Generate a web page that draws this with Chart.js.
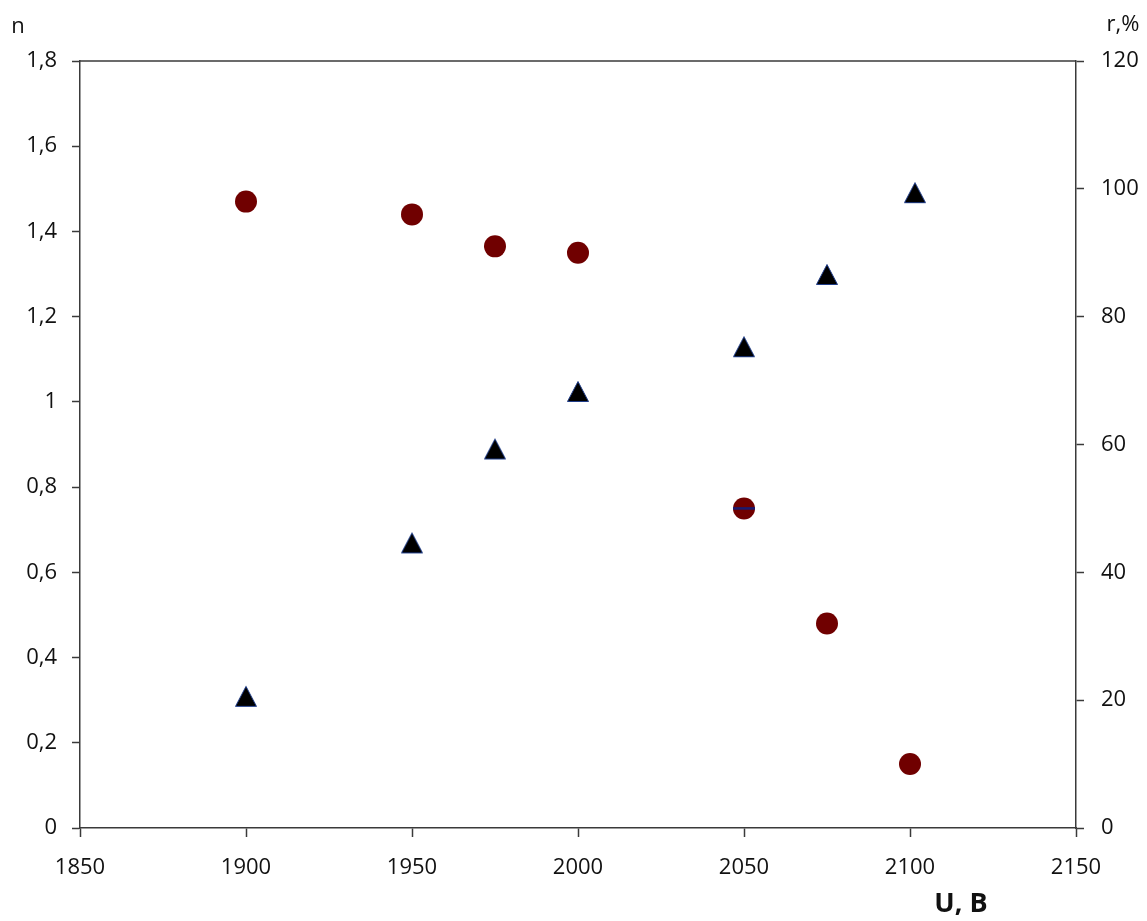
<!DOCTYPE html>
<html>
<head>
<meta charset="utf-8">
<script src="https://cdn.jsdelivr.net/npm/chart.js@4/dist/chart.umd.min.js"></script>
<style>
html,body{margin:0;padding:0;background:#fff;}
canvas{display:block;}
</style>
</head>
<body>
<canvas id="c" width="1147" height="921"></canvas>
<script>
// ---- data ----
const nVoltages = [1900, 1950, 1975, 2000, 2050, 2075, 2100];
const nValues = [1.47, 1.44, 1.365, 1.35, 0.75, 0.48, 0.15];
const rVoltages = [1900, 1950, 1975, 2000, 2050, 2075, 2101.5];
const rValues = [20.6, 44.6, 59.3, 68.3, 75.3, 86.6, 99.4];
const dashVoltage = [2050];
const dashValue = [0.75];
const xTickLabels = ['1850', '1900', '1950', '2000', '2050', '2100', '2150'];
const leftTickLabels = ['0', '0,2', '0,4', '0,6', '0,8', '1', '1,2', '1,4', '1,6', '1,8'];
const rightTickLabels = ['0', '20', '40', '60', '80', '100', '120'];
const leftAxisTitle = 'n';
const rightAxisTitle = 'r,%';
const xAxisTitle = 'U, B';

// ---- styles ----
const FONT = "'Open Sans', 'Liberation Sans', sans-serif";
const AXIS_COLOR = '#3a3a3a';
const TEXT_COLOR = '#111111';
const TICK_SIZE = 22;

function triangleMarker() {
  const cv = document.createElement('canvas');
  cv.width = 24; cv.height = 23;
  const g = cv.getContext('2d');
  g.beginPath();
  g.moveTo(12, 1.5);
  g.lineTo(22.5, 21.5);
  g.lineTo(1.5, 21.5);
  g.closePath();
  g.fillStyle = '#000000';
  g.fill();
  g.strokeStyle = '#1f3c88';
  g.lineWidth = 1;
  g.stroke();
  return cv;
}

const labelsPlugin = {
  id: 'extraText',
  afterDraw(chart) {
    const ctx = chart.ctx;
    const a = chart.chartArea;
    ctx.save();
    ctx.strokeStyle = AXIS_COLOR;
    ctx.lineWidth = 1.5;
    ctx.beginPath();
    ctx.moveTo(a.left, a.top);
    ctx.lineTo(a.right, a.top);
    ctx.stroke();
    ctx.fillStyle = TEXT_COLOR;
    ctx.textAlign = 'center';
    ctx.textBaseline = 'middle';
    ctx.font = TICK_SIZE + 'px ' + FONT;
    ctx.fillText(leftAxisTitle, 18, 27);
    ctx.fillText(rightAxisTitle, 1123, 25);
    ctx.font = 'bold 27px ' + FONT;
    ctx.fillText(xAxisTitle, 961, 904);
    ctx.restore();
  }
};

const ctx = document.getElementById('c').getContext('2d');
new Chart(ctx, {
  type: 'scatter',
  data: {
    datasets: [
      {
        label: 'n',
        data: nVoltages.map((x, i) => ({x: x, y: nValues[i]})),
        yAxisID: 'y',
        order: 1,
        pointStyle: 'circle',
        pointRadius: 11,
        pointBackgroundColor: '#700000',
        pointBorderColor: '#700000',
        pointBorderWidth: 0,
        showLine: false
      },
      {
        label: 'dash',
        data: dashVoltage.map((x, i) => ({x: x, y: dashValue[i]})),
        yAxisID: 'y',
        order: -1,
        pointStyle: 'line',
        pointRadius: 11,
        pointBorderColor: '#1a1a70',
        pointBorderWidth: 2.5,
        showLine: false
      },
      {
        label: 'r',
        data: rVoltages.map((x, i) => ({x: x, y: rValues[i]})),
        yAxisID: 'y1',
        order: 0,
        pointStyle: triangleMarker(),
        pointRadius: 11,
        showLine: false
      }
    ]
  },
  options: {
    responsive: false,
    animation: false,
    events: [],
    layout: {padding: {top: 61, left: 0, right: 0, bottom: 0}},
    plugins: {legend: {display: false}, tooltip: {enabled: false}},
    scales: {
      x: {
        type: 'linear',
        position: 'bottom',
        min: 1850, max: 2150,
        ticks: {
          stepSize: 50,
          color: TEXT_COLOR,
          font: {family: FONT, size: TICK_SIZE},
          padding: 18,
          maxRotation: 0,
          callback: (v, i) => xTickLabels[i]
        },
        grid: {drawOnChartArea: false, drawTicks: true, tickLength: 9, color: AXIS_COLOR, tickWidth: 1.5},
        border: {display: true, color: AXIS_COLOR, width: 1.5},
        afterFit: s => { s.height = 93; }
      },
      y: {
        type: 'linear',
        position: 'left',
        min: 0, max: 1.8,
        ticks: {
          stepSize: 0.2,
          color: TEXT_COLOR,
          font: {family: FONT, size: TICK_SIZE},
          padding: 15,
          callback: (v, i) => leftTickLabels[i]
        },
        grid: {drawOnChartArea: false, drawTicks: true, tickLength: 8, color: AXIS_COLOR, tickWidth: 1.5},
        border: {display: true, color: AXIS_COLOR, width: 1.5},
        afterFit: s => { s.width = 80; }
      },
      y1: {
        type: 'linear',
        position: 'right',
        min: 0, max: 120,
        ticks: {
          stepSize: 20,
          color: TEXT_COLOR,
          font: {family: FONT, size: TICK_SIZE},
          padding: 17,
          callback: (v, i) => rightTickLabels[i]
        },
        grid: {drawOnChartArea: false, drawTicks: true, tickLength: 8, color: AXIS_COLOR, tickWidth: 1.5},
        border: {display: true, color: AXIS_COLOR, width: 1.5},
        afterFit: s => { s.width = 71; }
      }
    }
  },
  plugins: [labelsPlugin]
});
</script>
</body>
</html>
